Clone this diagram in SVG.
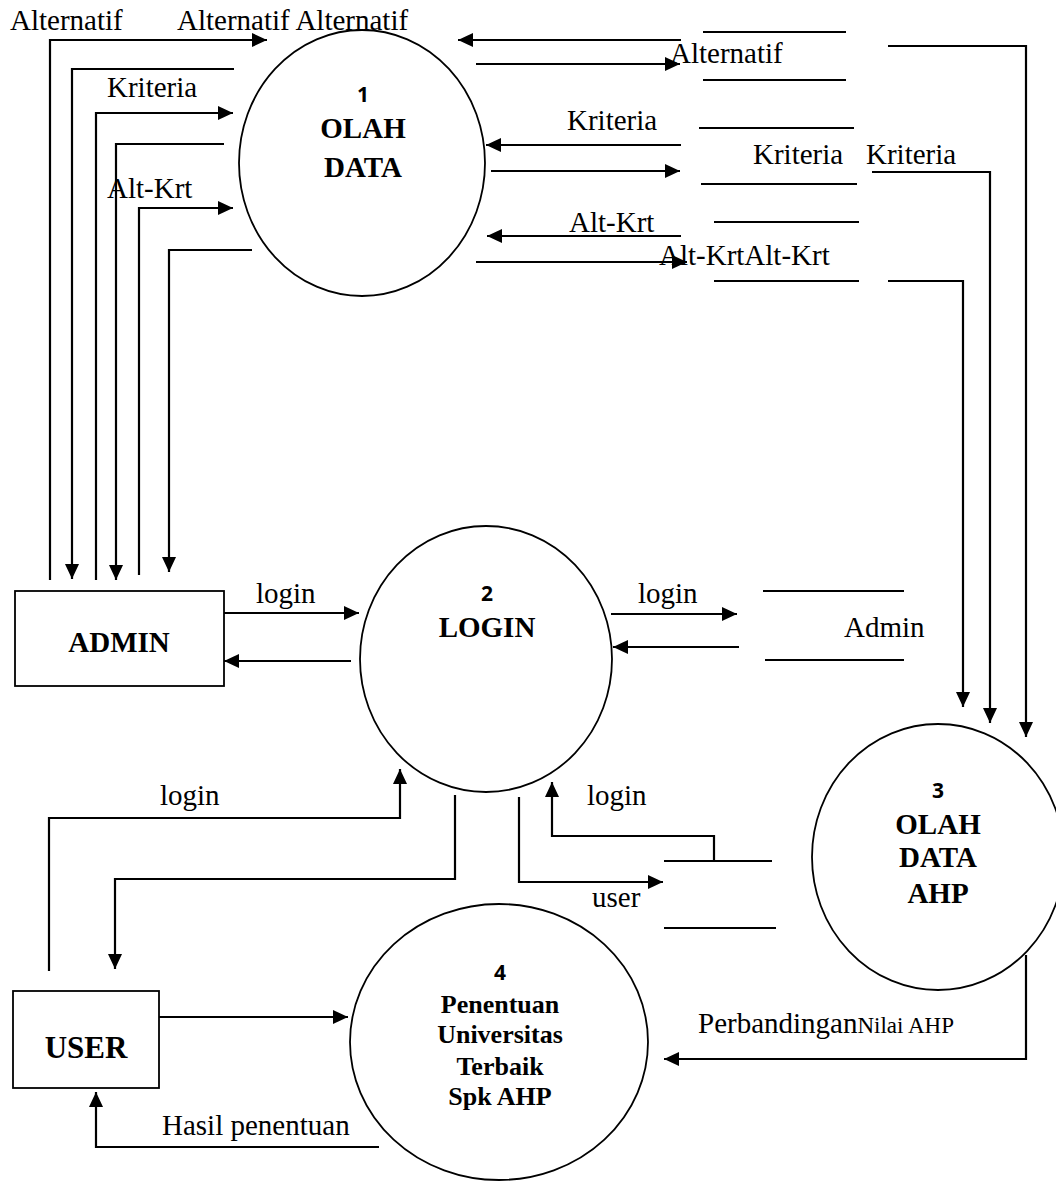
<svg xmlns="http://www.w3.org/2000/svg" width="1056" height="1182" viewBox="0 0 1056 1182">
<style>
.bg{fill:#fff}
.proc{fill:#fff;stroke:#000;stroke-width:1.8}
.ent{fill:#fff;stroke:#000;stroke-width:1.8}
.ln{fill:none;stroke:#000;stroke-width:2.2}
.st{fill:none;stroke:#000;stroke-width:2}
.arr{marker-end:url(#ah)}
.lbl{font-family:"Liberation Serif","Times New Roman",serif;font-size:29px;fill:#000}
.sm{font-size:23px}
.b{font-family:"Liberation Serif","Times New Roman",serif;font-weight:bold;font-size:29px;fill:#000;text-anchor:middle}
.b4{font-size:26px}
.num{font-family:"Open Sans","Liberation Sans",sans-serif;font-weight:bold;font-size:21px;fill:#000;text-anchor:middle}
</style>
<defs>
<marker id="ah" markerUnits="userSpaceOnUse" markerWidth="16" markerHeight="16" refX="15" refY="7" orient="auto">
<path d="M0,0 L15,7 L0,14 z" fill="#000"/>
</marker>
</defs>
<rect class="bg" x="0" y="0" width="1056" height="1182"/>

<g id="connectors">
<!-- Admin <-> Olah Data (left side) -->
<polyline class="ln arr" points="50,580 50,40 267,40"/>
<polyline class="ln arr" points="234,69 72,69 72,579"/>
<polyline class="ln arr" points="96,580 96,113 233,113"/>
<polyline class="ln arr" points="224,144 116,144 116,580"/>
<polyline class="ln arr" points="139,575 139,208 233,208"/>
<polyline class="ln arr" points="252,250 169,250 169,572"/>
<!-- Olah Data <-> stores -->
<line class="ln arr" x1="681" y1="40" x2="458" y2="40"/>
<line class="ln arr" x1="476" y1="64" x2="680" y2="64"/>
<line class="ln arr" x1="681" y1="145" x2="486" y2="145"/>
<line class="ln arr" x1="491" y1="171" x2="680" y2="171"/>
<line class="ln arr" x1="681" y1="236" x2="487" y2="236"/>
<line class="ln arr" x1="476" y1="262" x2="687" y2="262"/>
<!-- stores -> Olah Data AHP -->
<polyline class="ln arr" points="888,46 1026,46 1026,737"/>
<polyline class="ln arr" points="872,172 990,172 990,723"/>
<polyline class="ln arr" points="888,281 963,281 963,707"/>
<!-- Admin <-> Login -->
<line class="ln arr" x1="224" y1="613" x2="359" y2="613"/>
<line class="ln arr" x1="351" y1="661" x2="224" y2="661"/>
<!-- Login <-> Admin store -->
<line class="ln arr" x1="611" y1="614" x2="737" y2="614"/>
<line class="ln arr" x1="739" y1="647" x2="613" y2="647"/>
<!-- User <-> Login -->
<polyline class="ln arr" points="49,971 49,818 400,818 400,769"/>
<polyline class="ln arr" points="455,795 455,879 115,879 115,969"/>
<!-- Login <-> user store -->
<polyline class="ln arr" points="714,861 714,836 552,836 552,782"/>
<polyline class="ln arr" points="519,797 519,882 663,882"/>
<!-- User <-> Penentuan -->
<line class="ln arr" x1="159" y1="1017" x2="348" y2="1017"/>
<polyline class="ln arr" points="379,1147 96,1147 96,1092"/>
<!-- Olah Data AHP -> Penentuan -->
<polyline class="ln arr" points="1026,955 1026,1059 664,1059"/>
</g>

<g id="store-alternatif">
<line class="st" x1="703" y1="32" x2="846" y2="32"/>
<line class="st" x1="703" y1="80" x2="846" y2="80"/>
</g>
<g id="store-kriteria">
<line class="st" x1="699" y1="128" x2="854" y2="128"/>
<line class="st" x1="701" y1="184" x2="857" y2="184"/>
</g>
<g id="store-altkrt">
<line class="st" x1="714" y1="222" x2="859" y2="222"/>
<line class="st" x1="714" y1="281" x2="859" y2="281"/>
</g>
<g id="store-admin">
<line class="st" x1="763" y1="591" x2="904" y2="591"/>
<line class="st" x1="765" y1="660" x2="904" y2="660"/>
<text class="lbl" x="844" y="637">Admin</text>
</g>
<g id="store-user">
<line class="st" x1="664" y1="861" x2="772" y2="861"/>
<line class="st" x1="664" y1="928" x2="776" y2="928"/>
</g>

<g id="p1">
<ellipse class="proc" cx="362" cy="163" rx="123" ry="133"/>
<text class="num" x="363" y="102">1</text>
<text class="b" x="363" y="138">OLAH</text>
<text class="b" x="363" y="177">DATA</text>
</g>
<g id="p2">
<ellipse class="proc" cx="486" cy="659" rx="126" ry="133"/>
<text class="num" x="487" y="601">2</text>
<text class="b" x="487" y="637">LOGIN</text>
</g>
<g id="p3">
<ellipse class="proc" cx="938" cy="857" rx="126" ry="133"/>
<text class="num" x="938" y="798">3</text>
<text class="b" x="938" y="834">OLAH</text>
<text class="b" x="938" y="867">DATA</text>
<text class="b" x="938" y="903">AHP</text>
</g>
<g id="p4">
<ellipse class="proc" cx="499" cy="1042" rx="149" ry="138"/>
<text class="num" x="500" y="980">4</text>
<text class="b b4" x="500" y="1013">Penentuan</text>
<text class="b b4" x="500" y="1043">Universitas</text>
<text class="b b4" x="500" y="1075">Terbaik</text>
<text class="b b4" x="500" y="1105">Spk AHP</text>
</g>
<g id="admin">
<rect class="ent" x="15" y="591" width="209" height="95"/>
<text class="b" x="119" y="652">ADMIN</text>
</g>
<g id="user">
<rect class="ent" x="13" y="991" width="146" height="97"/>
<text class="b" x="86" y="1058" style="font-size:31px">USER</text>
</g>

<g id="labels">
<text class="lbl" x="10" y="30">Alternatif</text>
<text class="lbl" x="177" y="30">Alternatif Alternatif</text>
<text class="lbl" x="107" y="97">Kriteria</text>
<text class="lbl" x="107" y="198">Alt-Krt</text>
<text class="lbl" x="670" y="63">Alternatif</text>
<text class="lbl" x="567" y="130">Kriteria</text>
<text class="lbl" x="753" y="164">Kriteria</text>
<text class="lbl" x="866" y="164">Kriteria</text>
<text class="lbl" x="569" y="232">Alt-Krt</text>
<text class="lbl" x="659" y="265">Alt-KrtAlt-Krt</text>
<text class="lbl" x="256" y="603">login</text>
<text class="lbl" x="638" y="603">login</text>
<text class="lbl" x="160" y="805">login</text>
<text class="lbl" x="587" y="805">login</text>
<text class="lbl" x="592" y="907">user</text>
<text class="lbl" x="162" y="1135">Hasil penentuan</text>
<text class="lbl" x="698" y="1033">Perbandingan<tspan class="sm">Nilai AHP</tspan></text>
</g>
</svg>
